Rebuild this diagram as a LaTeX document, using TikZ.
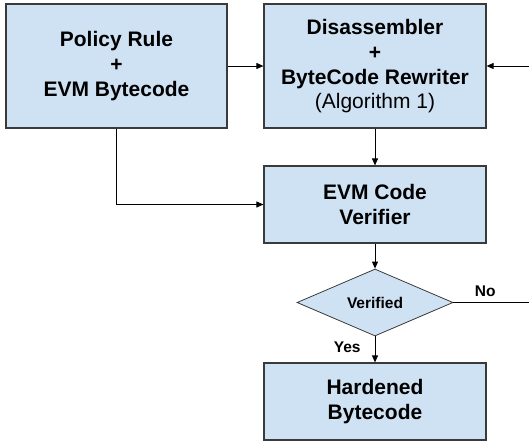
\documentclass[tikz,border=0pt]{standalone}
\usepackage{fontspec}
\setmainfont{Liberation Sans}
\usetikzlibrary{arrows.meta, shapes.geometric}
\definecolor{boxfill}{HTML}{CFE2F3}
\definecolor{boxline}{HTML}{3A3A3A}

\begin{document}
\begin{tikzpicture}[
    x=1pt, y=-1pt,
    block/.style = {
        draw=boxline,
        fill=boxfill,
        line width=1.2pt,
        inner sep=0pt,
        align=center,
        minimum width=222pt,
        font=\bfseries\fontsize{21}{25}\selectfont,
    },
    tall/.style = {
        block,
        minimum height=124pt,
    },
    short/.style = {
        block,
        minimum height=77pt,
    },
    decision/.style = {
        diamond,
        draw=boxline,
        fill=boxfill,
        line width=0.8pt,
        inner sep=0pt,
        aspect=2.33,
        minimum width=156pt,
        minimum height=67pt,
        font=\bfseries\fontsize{15.5}{18}\selectfont,
    },
    flow/.style = {
        draw=black,
        line width=0.9pt,
        -{Triangle[length=7pt, width=6pt]},
    },
    answer/.style = {
        inner sep=0pt,
        font=\bfseries\fontsize{15.5}{18}\selectfont,
    },
]
\useasboundingbox (0, 0) rectangle (529, 442);
\node [tall, minimum width=221pt] (policy) at (116.5, 66) {Policy Rule\\+\\EVM Bytecode};
\node [tall] (rewriter) at (375, 66)
    {Disassembler\\+\\ByteCode Rewriter\\[-1pt]{\mdseries (Algorithm 1)}};
\node [short] (verifier) at (375, 204.5) {EVM Code\\Verifier};
\node [decision] (verified) at (375, 302.5) {Verified};
\node [short] (hardened) at (375, 401.5) {Hardened\\Bytecode};
\coordinate (loopin) at (529, 66);
\coordinate (loopout) at (529, 302.5);
% main flow
\draw [flow] (policy) -- (rewriter);
\draw [flow] (loopin) -- (rewriter);
\draw [flow] (rewriter) -- (verifier);
\draw [flow] (policy.south) |- (verifier.west);
\draw [flow] (verifier) -- (verified);
% outcome of the check
\draw [flow] (verified) -- node [answer, pos=0.4, left=14pt] {Yes} (hardened);
\draw [line width=0.9pt] (verified) -- node [answer, pos=0.42, above=5pt] {No} (loopout);
\end{tikzpicture}
\end{document}
